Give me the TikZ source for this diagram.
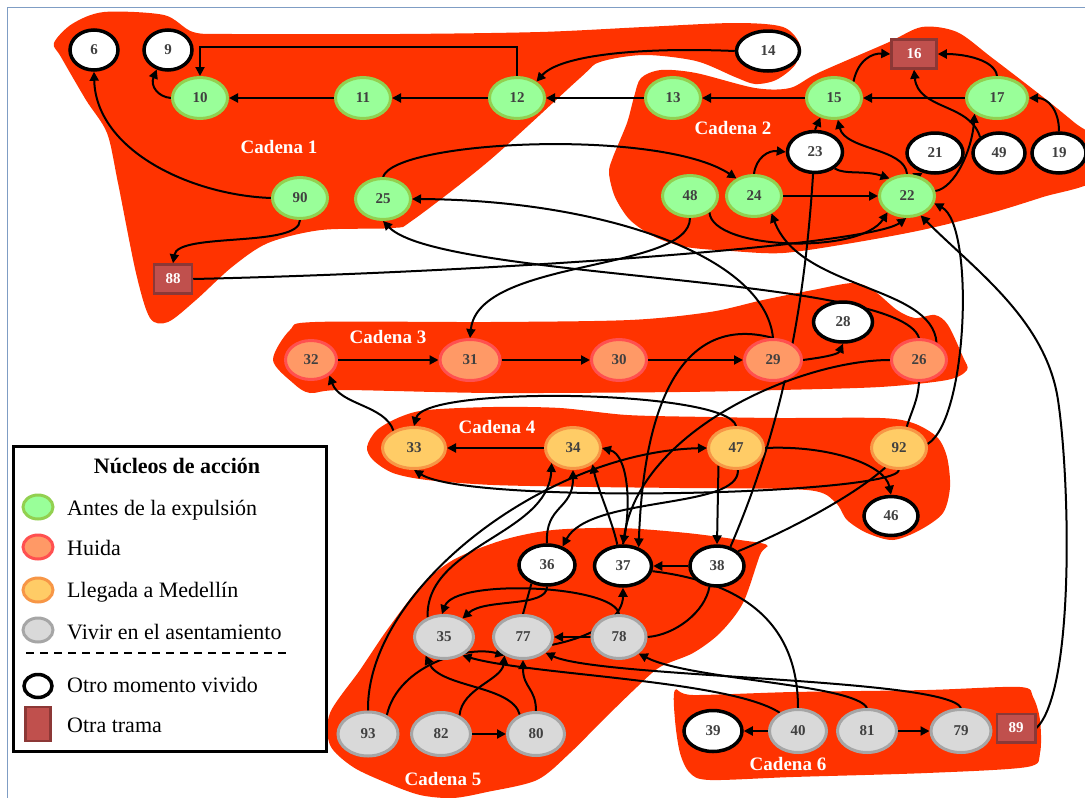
\documentclass[tikz,border=0pt]{standalone}
\usepackage{fontspec}
\setmainfont{Liberation Serif}
\usetikzlibrary{shapes.geometric,arrows.meta}
\pgfdeclarelayer{bg}
\pgfdeclarelayer{wires}
\pgfsetlayers{bg,wires,main}
\definecolor{blob}{RGB}{255,51,0}
\definecolor{antesF}{RGB}{153,255,153}
\definecolor{antesD}{RGB}{146,208,80}
\definecolor{huidaF}{RGB}{255,153,102}
\definecolor{huidaD}{RGB}{255,80,80}
\definecolor{llegF}{RGB}{255,204,102}
\definecolor{llegD}{RGB}{247,150,70}
\definecolor{vivF}{RGB}{217,217,217}
\definecolor{vivD}{RGB}{166,166,166}
\definecolor{tramaF}{RGB}{192,80,77}
\definecolor{tramaD}{RGB}{140,56,54}
\definecolor{numtxt}{RGB}{64,64,64}
\definecolor{framecol}{RGB}{127,157,196}
\begin{document}
\begin{tikzpicture}[x=1pt,y=-1pt,
  nuc/.style={ellipse, inner sep=0pt, minimum width=55pt, minimum height=41pt, line width=3pt,
    font=\fontsize{15}{15}\selectfont\bfseries, text=numtxt},
  antes/.style={nuc, fill=antesF, draw=antesD},
  huida/.style={nuc, fill=huidaF, draw=huidaD, minimum width=57pt, minimum height=41pt},
  llegada/.style={nuc, fill=llegF, draw=llegD},
  vivir/.style={nuc, fill=vivF, draw=vivD, minimum width=59pt, minimum height=43pt},
  otro/.style={nuc, fill=white, draw=black, line width=3.5pt, minimum width=56pt, minimum height=40pt},
  trama/.style={rectangle, inner sep=0pt, minimum width=38pt, minimum height=29pt, fill=tramaF,
    draw=tramaD, line width=2.5pt, text=white, font=\fontsize{15}{15}\selectfont\bfseries},
  cadena/.style={text=white, font=\fontsize{19}{19}\selectfont\bfseries, inner sep=0pt},
  arr/.style={line width=2pt, -{Triangle[length=9pt,width=9pt]}},
  ln/.style={line width=2pt},
  blobfill/.style={fill=blob, draw=none},
  leyenda/.style={font=\fontsize{22}{22}\selectfont, anchor=base west, inner sep=0pt},
]
\useasboundingbox (0,0) rectangle (1085,798);

% ---------- nodes: cadena 1 ----------
\node[otro, minimum width=48pt] (n6) at (94,50) {6};
\node[otro, minimum width=48pt] (n9) at (168,50) {9};
\node[antes] (n10) at (200,98) {10};
\node[antes] (n11) at (363,98) {11};
\node[antes] (n12) at (517,98) {12};
\node[antes] (n90) at (300,198) {90};
\node[antes] (n25) at (383,199) {25};
\node[trama] (n88) at (173,279) {88};
\node[otro, minimum width=63pt] (n14) at (768,51) {14};
% ---------- nodes: cadena 2 ----------
\node[antes] (n13) at (673,98) {13};
\node[antes] (n15) at (834,98) {15};
\node[trama, minimum width=45pt] (n16) at (914,54) {16};
\node[antes, minimum width=61pt] (n17) at (997,98) {17};
\node[otro, minimum width=55pt, minimum height=41pt] (n23) at (815,152) {23};
\node[otro] (n21) at (935,153) {21};
\node[otro, minimum width=52pt] (n49) at (999,153) {49};
\node[otro, minimum width=54pt] (n19) at (1059,153) {19};
\node[antes] (n48) at (690,196) {48};
\node[antes] (n24) at (754,196) {24};
\node[antes] (n22) at (907,196) {22};
% ---------- nodes: cadena 3 ----------
\node[huida, minimum width=51pt, minimum height=39pt] (n32) at (311,360) {32};
\node[huida, minimum width=60pt] (n31) at (470,360) {31};
\node[huida, minimum width=55pt] (n30) at (619,360) {30};
\node[huida] (n29) at (773,360) {29};
\node[huida, minimum width=55pt] (n26) at (919,360) {26};
\node[otro, minimum width=59pt] (n28) at (843,322) {28};
% ---------- nodes: cadena 4 ----------
\node[llegada, minimum width=63pt] (n33) at (414,448) {33};
\node[llegada] (n34) at (573,448) {34};
\node[llegada] (n47) at (736,448) {47};
\node[llegada] (n92) at (899,448) {92};
\node[otro, minimum width=54pt, minimum height=39pt] (n46) at (891,516) {46};
% ---------- nodes: cadena 5 ----------
\node[otro] (n36) at (547,565) {36};
\node[otro, minimum width=57pt] (n37) at (623,566) {37};
\node[otro, minimum width=54pt] (n38) at (717,566) {38};
\node[vivir] (n35) at (444,637) {35};
\node[vivir] (n77) at (523,637) {77};
\node[vivir, minimum width=54pt] (n78) at (619,637) {78};
\node[vivir, minimum width=60pt, minimum height=44pt] (n93) at (368,734) {93};
\node[vivir] (n82) at (441,734) {82};
\node[vivir, minimum width=57pt] (n80) at (536,734) {80};
% ---------- nodes: cadena 6 ----------
\node[otro, minimum width=58pt, minimum height=41pt] (n39) at (713,731) {39};
\node[vivir, minimum width=57pt] (n40) at (798,731) {40};
\node[vivir] (n81) at (867,731) {81};
\node[vivir, minimum width=60pt] (n79) at (961,731) {79};
\node[trama, minimum width=38.5pt, minimum height=28.5pt] (n89) at (1016,728) {89};

% ---------- chain labels ----------
\node[cadena] (c1) at (279,147) {Cadena 1};
\node[cadena] (c2) at (733,128) {Cadena 2};
\node[cadena] (c3) at (388,337) {Cadena 3};
\node[cadena] (c4) at (497,427) {Cadena 4};
\node[cadena] (c5) at (443,779) {Cadena 5};
\node[cadena] (c6) at (788,764) {Cadena 6};

% ---------- background blobs ----------
\begin{pgfonlayer}{bg}
\draw[framecol, line width=1pt] (7,798) -- (7,7) -- (1085,7);
\fill[blobfill] plot[smooth cycle, tension=0.5] coordinates {
  (54,43) (72,24) (104,12) (164,15) (193,32) (232,34) (400,34) (540,32) (644,27) (735,23)
  (783,27) (800,45) (795,65) (776,80) (755,84) (735,77) (696,61) (644,55) (600,62) (580,78)
  (490,160) (413,220) (393,228) (321,230) (268,243) (232,267) (196,300) (168,322) (150,318)
  (136,273) (118,183) (107,133) (86,100) (61,57)};
\fill[blobfill] plot[smooth cycle, tension=0.5] coordinates {
  (641,78) (661,70) (696,73) (755,88) (790,88) (818,73) (887,43) (922,27) (957,32) (991,57)
  (1043,97) (1075,123) (1095,140) (1095,180) (1043,197) (991,213) (922,230) (852,243)
  (783,253) (731,251) (686,247) (655,237) (630,220) (615,197) (609,173) (613,157) (627,123)
  (634,97)};
\fill[blobfill] plot[smooth cycle, tension=0.5] coordinates {
  (273,360) (290,330) (315,322) (490,322) (630,320) (710,312) (763,300) (813,290) (853,283)
  (873,290) (897,310) (915,318) (935,315) (948,325) (963,357) (967,370) (947,380) (880,387)
  (780,390) (680,392) (493,393) (343,390) (310,393) (293,383)};
\fill[blobfill] plot[smooth cycle, tension=0.5] coordinates {
  (367,447) (377,430) (400,417) (427,410) (493,407) (560,408) (627,415) (710,417) (780,418)
  (880,418) (913,423) (937,437) (947,457) (950,487) (943,513) (920,530) (893,540) (867,533)
  (847,520) (835,502) (807,490) (680,488) (593,487) (493,485) (427,480) (393,473) (373,460)};
\fill[blobfill] plot[smooth cycle, tension=0.5] coordinates {
  (330,745) (330,713) (360,670) (387,630) (420,587) (453,560) (503,540) (553,530) (620,528)
  (687,533) (740,540) (767,545) (760,555) (743,603) (720,633) (693,653) (660,667) (637,687)
  (603,720) (570,753) (537,780) (487,792) (453,798) (420,795) (387,783) (353,767)};
\fill[blobfill] plot[smooth cycle, tension=0.5] coordinates {
  (675,690) (693,695) (793,692) (927,690) (1020,687) (1033,697) (1040,720) (1040,753)
  (1027,767) (927,773) (793,777) (710,780) (690,773) (680,753) (675,720)};
\end{pgfonlayer}

% ---------- connectors ----------
\begin{pgfonlayer}{wires}
% cadena 1
\draw[arr] (n12.west) -- (n11.east);
\draw[arr] (n11.west) -- (n10.east);
\draw[arr] (n12.north) -- ++(0,-29) -| (n10.north);
\draw[arr] (n10.west) .. controls (158,97) and (150,86) .. (n9.240);
\draw[arr] (n90.west) .. controls (190,195) and (96,150) .. (n6.south);
\draw[arr] (n90.south) .. controls (300,248) and (178,232) .. (n88.north);
\draw[arr] (n14.west) .. controls (640,47) and (560,55) .. (n12.40);
\draw[arr] (n13.west) -- (n12.east);
% cadena 2
\draw[arr] (n15.west) -- (n13.east);
\draw[arr] (n17.west) -- (n15.east);
\draw[arr] (n15.40) .. controls (858,60) and (872,53) .. (n16.west);
\draw[arr] (n17.north) .. controls (995,60) and (965,54) .. (n16.east);
\draw[arr] (n49.140) .. controls (970,103) and (918,110) .. (n16.south);
\draw[arr] (n19.north) .. controls (1059,110) and (1048,98) .. (n17.east);
\draw[arr] (n22.10) .. controls (955,188) and (972,150) .. (n17.215);
\draw[arr] (n23.north) -- (n15.235);
\draw[arr] (n22.north) .. controls (905,148) and (845,150) .. (n15.280);
\draw[arr] (n24.north) .. controls (756,158) and (768,150) .. (n23.west);
\draw[arr] (n23.320) .. controls (845,175) and (865,170) .. (n22.135);
\draw[arr] (n24.east) -- (n22.west);
\draw[arr] (n22.62) -- (n21.238);
\draw[arr] (n48.320) .. controls (712,250) and (860,255) .. (n22.220);
\draw[arr] (n88.east) .. controls (500,272) and (870,245) .. (n22.268);
\draw[arr] (n25.north) .. controls (395,140) and (660,128) .. (n24.135);
\draw[arr] (n48.south) .. controls (690,272) and (478,258) .. (n31.north);
\draw[arr] (n29.north) .. controls (765,255) and (600,200) .. (n25.east);
\draw[arr] (n26.north) .. controls (900,275) and (440,280) .. (n25.south);
\draw[arr] (n26.45) .. controls (932,285) and (800,290) .. (n24.315);
% cadena 3
\draw[arr] (n32.east) -- (n31.west);
\draw[arr] (n31.east) -- (n30.west);
\draw[arr] (n30.east) -- (n29.west);
\draw[arr] (n29.east) .. controls (818,358) and (838,355) .. (n28.south);
\draw[arr] (n29.north) .. controls (700,318) and (645,370) .. (n37.50);
\draw[arr] (n26.west) .. controls (800,360) and (640,430) .. (n37.north);
\draw[ln] (n23.265) .. controls (805,300) and (785,420) .. (n38.55);
\draw[ln] (n26.south) .. controls (918,400) and (912,410) .. (n92.70);
\draw[arr] (n92.8) .. controls (968,420) and (975,225) .. (n22.345);
\draw[arr] (n89.east) .. controls (1075,690) and (1070,480) .. (1058,400)
  .. controls (1046,320) and (975,270) .. (n22.305);
% cadena 4
\draw[arr] (n34.west) -- (n33.east);
\draw[arr] (n92.south) .. controls (895,495) and (470,505) .. (n33.south);
\draw[arr] (n47.north) .. controls (728,390) and (425,385) .. (n33.north);
\draw[arr] (n33.140) .. controls (385,405) and (340,405) .. (n32.320);
\draw[arr] (n47.east) .. controls (830,445) and (885,465) .. (n46.north);
\draw[arr] (n93.north) .. controls (366,590) and (545,452) .. (n47.west);
\draw[arr] (n35.130) .. controls (425,545) and (548,535) .. (n34.215);
\draw[arr] (n36.north) .. controls (545,505) and (573,510) .. (n34.south);
\draw[arr] (n37.105) .. controls (612,520) and (598,490) .. (n34.320);
\draw[arr] (n37.north) .. controls (632,505) and (628,455) .. (n34.east);
\draw[arr] (n47.275) .. controls (740,510) and (590,495) .. (n36.50);
\draw[arr] (n47.225) -- (n38.north);
\draw[ln] (n92.235) .. controls (855,495) and (790,530) .. (n38.35);
% cadena 5
\draw[arr] (n38.west) -- (n37.east);
\draw[arr] (n36.south) .. controls (547,608) and (485,598) .. (n35.45);
\draw[arr] (n78.north) .. controls (615,585) and (455,578) .. (n35.95);
\draw[ln] (n36.230) -- (n77.north);
\draw[arr] (n78.west) -- (n77.east);
\draw[arr] (n77.345) .. controls (600,635) and (623,615) .. (n37.south);
\draw[ln] (n38.250) .. controls (705,612) and (675,635) .. (n78.east);
\draw[ln] (n37.350) .. controls (725,580) and (798,610) .. (n40.north);
\draw[arr] (n82.east) -- (n80.west);
\draw[arr] (n82.45) .. controls (462,688) and (502,680) .. (n77.225);
\draw[arr] (n93.45) .. controls (398,665) and (468,645) .. (n77.225);
\draw[arr] (n80.130) .. controls (512,685) and (440,688) .. (n35.225);
\draw[arr] (n80.north) .. controls (536,688) and (523,688) .. (n77.south);
% cadena 6
\draw[arr] (n40.west) -- (n39.east);
\draw[arr] (n81.east) -- (n79.west);
\draw[arr] (n40.135) .. controls (730,680) and (530,675) .. (n35.315);
\draw[arr] (n81.north) .. controls (855,684) and (690,680) .. (n78.320);
\draw[arr] (n79.north) .. controls (948,678) and (600,678) .. (n77.325);
\end{pgfonlayer}

% ---------- legend ----------
\node[draw, line width=2.5pt, fill=white, minimum width=313pt, minimum height=305pt,
  anchor=north west, inner sep=0pt] (leyenda) at (12,445) {};
\node[font=\fontsize{22}{22}\selectfont\bfseries, anchor=base, inner sep=0pt] (lgt) at (177,473) {Núcleos de acción};
\node[antes, minimum width=30pt, minimum height=24pt] (lg1) at (38,507) {};
\node[leyenda] (lg1t) at (67,515) {Antes de la expulsión};
\node[huida, minimum width=30pt, minimum height=24pt] (lg2) at (38,547) {};
\node[leyenda] (lg2t) at (67,555) {Huida};
\node[llegada, minimum width=30pt, minimum height=24pt] (lg3) at (38,590) {};
\node[leyenda] (lg3t) at (67,597) {Llegada a Medellín};
\node[vivir, minimum width=30pt, minimum height=24pt] (lg4) at (38,630) {};
\node[leyenda] (lg4t) at (67,639) {Vivir en el asentamiento};
\draw[line width=1.5pt, dash pattern=on 8pt off 6pt] (26,653) -- (288,653);
\node[otro, minimum width=28pt, minimum height=23pt] (lg5) at (38,686) {};
\node[leyenda] (lg5t) at (67,692) {Otro momento vivido};
\node[trama, minimum width=25pt, minimum height=34pt] (lg6) at (38,724) {};
\node[leyenda] (lg6t) at (67,732) {Otra trama};
\end{tikzpicture}
\end{document}
